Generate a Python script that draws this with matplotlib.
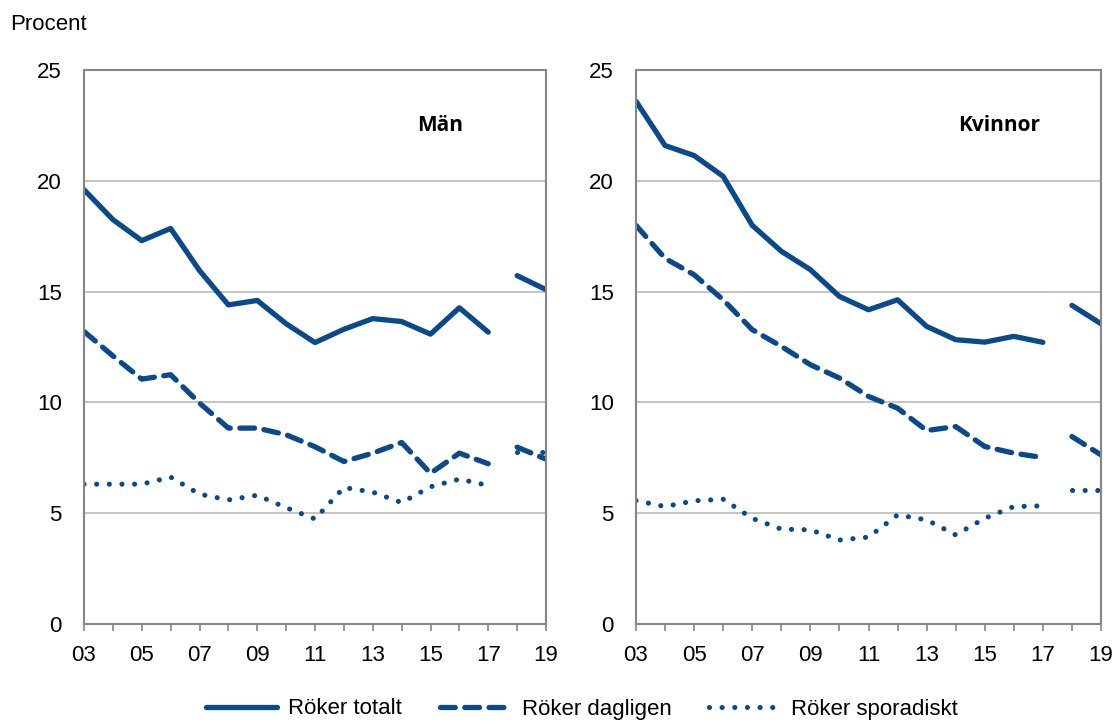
import matplotlib
matplotlib.use("Agg")
import matplotlib.pyplot as plt
import numpy as np

plt.rcParams['font.family'] = ['Liberation Sans', 'DejaVu Sans']

years = ["03", "04", "05", "06", "07", "08", "09", "10", "11", "12",
         "13", "14", "15", "16", "17", "18", "19"]

man_totalt = [19.6, 18.25, 17.3, 17.85, 15.95, 14.4, 14.6, 13.55, 12.7, 13.3,
              13.78, 13.65, 13.08, 14.27, 13.17, 15.72, 15.09]
man_dagligen = [13.2, 12.1, 11.05, 11.25, 9.97, 8.84, 8.84, 8.54, 8.0, 7.33,
                7.71, 8.19, 6.8, 7.71, 7.23, 7.98, 7.44]
man_sporadiskt = [6.31, 6.31, 6.31, 6.63, 5.86, 5.6, 5.81, 5.25, 4.74, 6.16,
                  5.95, 5.48, 6.19, 6.54, 6.25, 7.74, 7.74]

kv_totalt = [23.59, 21.59, 21.14, 20.2, 17.99, 16.82, 15.99, 14.78, 14.18, 14.63,
             13.43, 12.83, 12.72, 12.98, 12.71, 14.38, 13.55]
kv_dagligen = [17.99, 16.5, 15.76, 14.63, 13.28, 12.53, 11.7, 11.1, 10.27, 9.74,
               8.73, 8.91, 8.01, 7.71, 7.51, 8.46, 7.63]
kv_sporadiskt = [5.57, 5.3, 5.56, 5.63, 4.77, 4.28, 4.25, 3.79, 3.92, 4.92,
                 4.7, 4.02, 4.77, 5.3, 5.33, 6.05, 6.05]

series_labels = ["Röker totalt", "Röker dagligen", "Röker sporadiskt"]
panel_titles = ["Män", "Kvinnor"]
break_after = 15  # years 03-17 belong to one survey series, 18-19 to another

color = '#0A4A8B'
grid_c = '#BFBFBF'
spine_c = '#868686'

W, H = 1116, 722
fig = plt.figure(figsize=(W / 100, H / 100), dpi=100)
ax1 = fig.add_axes([84 / W, (H - 624) / H, (546 - 84) / W, (624 - 70) / H])
ax2 = fig.add_axes([636 / W, (H - 624) / H, (1101 - 636) / W, (624 - 70) / H])

x = np.arange(len(years))
styles = [
    dict(linestyle='-', solid_capstyle='round', lw=3.8),
    dict(linestyle=(0, (2.8, 1.8)), dash_capstyle='round', lw=3.8),
    dict(linestyle=(0, (0.01, 2.45)), dash_capstyle='round', lw=3.7),
]

handles = []
for ax, data, title, tx in [
    (ax1, [man_totalt, man_dagligen, man_sporadiskt], panel_titles[0], 0.77),
    (ax2, [kv_totalt, kv_dagligen, kv_sporadiskt], panel_titles[1], 0.78),
]:
    for vals, st, lab in zip(data, styles, series_labels):
        kw = dict(color=color)
        kw.update(st)
        v = np.array(vals)
        h, = ax.plot(x[:break_after], v[:break_after], label=lab, **kw)
        ax.plot(x[break_after:], v[break_after:], **kw)
        if ax is ax1:
            handles.append(h)
    ax.set_xlim(0, len(years) - 1)
    ax.set_ylim(0, 25)
    ax.set_yticks([0, 5, 10, 15, 20, 25])
    ax.set_xticks(x)
    ax.set_xticklabels([y if i % 2 == 0 else '' for i, y in enumerate(years)])
    ax.grid(axis='y', color=grid_c, lw=1.3)
    ax.set_axisbelow(True)
    for s in ax.spines.values():
        s.set_color(spine_c)
        s.set_linewidth(1.5)
    ax.tick_params(axis='y', length=0, pad=16, labelsize=16)
    ax.tick_params(axis='x', length=5, width=1.2, color=spine_c, pad=10,
                   labelsize=16, direction='out')
    ax.text(tx, 0.9, title, transform=ax.transAxes, fontsize=15,
            fontweight='bold', ha='center', va='center',
            family=['Open Sans', 'DejaVu Sans'])

fig.text(10 / W, 1 - 25 / H, "Procent", fontsize=16, ha='left', va='center')

fig.legend(handles=handles, loc='center', bbox_to_anchor=(582 / W, 1 - 709 / H),
           ncol=3, frameon=False, fontsize=16, handlelength=3.2,
           handletextpad=0.5, columnspacing=1.7)

fig.savefig("out.png", dpi=100)
